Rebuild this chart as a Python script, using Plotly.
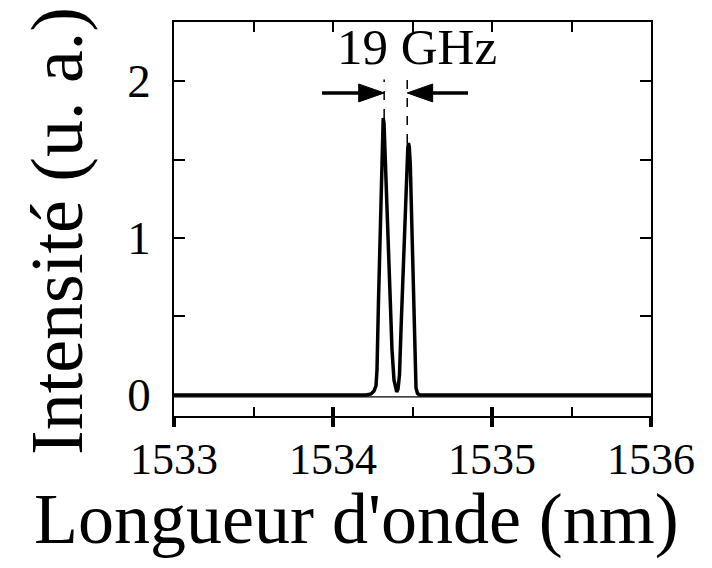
import plotly.graph_objects as go

# ---- data ----
wavelength_nm = [1533.0, 1534.2075, 1534.2390, 1534.2579, 1534.2704, 1534.2767, 1534.2862,
                 1534.2956, 1534.3050, 1534.3113, 1534.3157, 1534.3208, 1534.3270,
                 1534.3396, 1534.3553, 1534.3711, 1534.3836, 1534.3931, 1534.4006,
                 1534.4088, 1534.4182, 1534.4277, 1534.4403, 1534.4528, 1534.4642,
                 1534.4704, 1534.4748, 1534.4799, 1534.4862, 1534.4937, 1534.5031,
                 1534.5113, 1534.5170, 1534.5220, 1534.5314, 1534.5440, 1534.5786, 1536.0]
intensity_au = [0.0, 0.0, 0.0064, 0.0255, 0.0573, 0.159, 0.605,
                1.051, 1.465, 1.688, 1.764, 1.732, 1.561,
                1.115, 0.669, 0.287, 0.096, 0.038, 0.019,
                0.038, 0.127, 0.414, 0.796, 1.178, 1.465,
                1.573, 1.605, 1.580, 1.465, 1.178, 0.764,
                0.350, 0.127, 0.045, 0.0096, 0.0, 0.0, 0.0]

x_ticks = [1533, 1534, 1535, 1536]
x_tick_labels = ["1533", "1534", "1535", "1536"]
y_ticks = [0, 1, 2]
y_tick_labels = ["0", "1", "2"]
annotation_text = "19 GHz"
x_title = "Longueur d'onde (nm)"
y_title = "Intensité (u. a.)"

FONT = "Liberation Serif, Times New Roman, serif"
X_RANGE = [1533, 1536]
Y_RANGE = [-0.134, 2.376]

fig = go.Figure()
fig.add_trace(go.Scatter(x=wavelength_nm, y=intensity_au, mode="lines",
                         line=dict(color="black", width=3.5), showlegend=False,
                         hoverinfo="skip"))
# invisible traces to activate the overlay axes
fig.add_trace(go.Scatter(x=[X_RANGE[0]], y=[0], xaxis="x2", mode="markers",
                         marker=dict(opacity=0), showlegend=False, hoverinfo="skip"))
fig.add_trace(go.Scatter(x=[X_RANGE[0]], y=[0], xaxis="x3", mode="markers",
                         marker=dict(opacity=0), showlegend=False, hoverinfo="skip"))

# peak positions from the data
split = intensity_au.index(min(intensity_au[8:22]), 8)
i1 = max(range(0, split), key=lambda i: intensity_au[i])
i2 = max(range(split, len(intensity_au)), key=lambda i: intensity_au[i])
p1x, p1y = wavelength_nm[i1], intensity_au[i1]
p2x, p2y = wavelength_nm[i2], intensity_au[i2]

ay = 1.924
head_len = 0.16
head_h = 0.057
lx = p1x + 0.006
rx = p2x - 0.008
shapes = [
    # dashed guide lines above the peaks
    dict(type="line", xref="x", yref="y", x0=lx, x1=lx, y0=p1y, y1=2.01,
         line=dict(color="black", width=1.5, dash="dash")),
    dict(type="line", xref="x", yref="y", x0=rx, x1=rx, y0=p2y, y1=2.04,
         line=dict(color="black", width=1.5, dash="dash")),
    # left arrow
    dict(type="line", xref="x", yref="y", x0=1533.931, x1=lx - head_len + 0.01, y0=ay, y1=ay,
         line=dict(color="black", width=3.5)),
    dict(type="path", xref="x", yref="y",
         path=f"M {lx-head_len},{ay-head_h} L {lx},{ay} L {lx-head_len},{ay+head_h} Z",
         fillcolor="black", line=dict(color="black", width=1)),
    # right arrow
    dict(type="line", xref="x", yref="y", x0=1534.849, x1=rx + head_len - 0.01, y0=ay, y1=ay,
         line=dict(color="black", width=3.5)),
    dict(type="path", xref="x", yref="y",
         path=f"M {rx+head_len},{ay-head_h} L {rx},{ay} L {rx+head_len},{ay+head_h} Z",
         fillcolor="black", line=dict(color="black", width=1)),
    # inner bottom frame line
    dict(type="line", xref="paper", yref="y", x0=0, x1=1, y0=-0.012, y1=-0.012,
         line=dict(color="black", width=1.2)),
]

fig.update_layout(
    width=712, height=568,
    margin=dict(l=174, r=61, t=22, b=152),
    paper_bgcolor="white", plot_bgcolor="white",
    font=dict(family=FONT, color="black"),
    showlegend=False,
    shapes=shapes,
    xaxis=dict(range=X_RANGE, anchor="y", side="bottom",
               tickvals=x_ticks, ticktext=x_tick_labels,
               ticks="inside", ticklen=9, tickwidth=3.5, tickcolor="black",
               minor=dict(dtick=0.5, tick0=1533, ticks="inside", ticklen=9,
                          tickwidth=1.5, tickcolor="black", showgrid=False),
               showline=True, linecolor="black", linewidth=2,
               showgrid=False, zeroline=False,
               ticklabelstandoff=3,
               tickfont=dict(size=44, family=FONT)),
    xaxis2=dict(range=X_RANGE, overlaying="x", anchor="y", side="top",
                dtick=0.5, tick0=1533, ticks="inside", ticklen=10, tickwidth=1.5,
                tickcolor="black", showticklabels=False,
                showline=True, linecolor="black", linewidth=1.5,
                showgrid=False, zeroline=False),
    xaxis3=dict(range=X_RANGE, overlaying="x", anchor="y", side="bottom",
                tickvals=x_ticks, ticks="outside", ticklen=10, tickwidth=3.5,
                tickcolor="black", showticklabels=False, showline=False,
                showgrid=False, zeroline=False),
    yaxis=dict(range=Y_RANGE, tickvals=y_ticks, ticktext=y_tick_labels,
               ticks="inside", ticklen=11, tickwidth=1.5, tickcolor="black",
               minor=dict(dtick=0.5, tick0=0, ticks="inside", ticklen=11,
                          tickwidth=1.5, tickcolor="black", showgrid=False),
               showline=True, linecolor="black", linewidth=1.5, mirror="ticks",
               showgrid=False, zeroline=False,
               ticklabelstandoff=12,
               tickfont=dict(size=47, family=FONT)),
    annotations=[
        dict(text=annotation_text, xref="x", yref="y",
             x=1534.53, y=2.215, showarrow=False,
             font=dict(size=51, family=FONT, color="black"),
             xanchor="center", yanchor="middle"),
        dict(text=x_title, xref="paper", yref="paper",
             x=0.3816, y=-0.2614, showarrow=False,
             font=dict(size=72, family=FONT, color="black"),
             xanchor="center", yanchor="middle"),
        dict(text=y_title, xref="paper", yref="paper",
             x=-0.245, y=0.47, showarrow=False, textangle=-90,
             font=dict(size=74, family=FONT, color="black"),
             xanchor="center", yanchor="middle"),
    ],
)

fig.write_html("out.html", config={"displayModeBar": False},
               post_script="document.body.style.margin='0';")
